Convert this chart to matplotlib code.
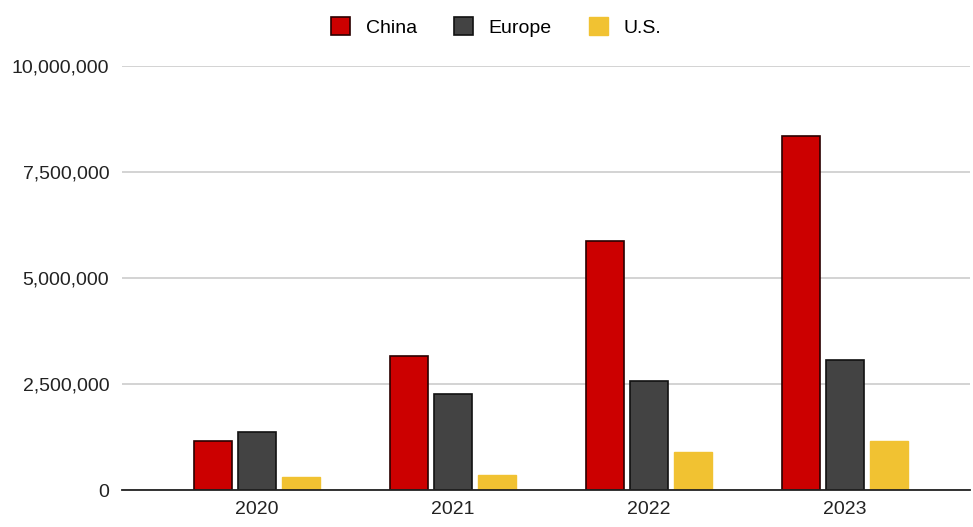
import matplotlib.pyplot as plt
import numpy as np
from matplotlib.ticker import FuncFormatter

years = ["2020", "2021", "2022", "2023"]
china = [1160000, 3160000, 5880000, 8350000]
europe = [1360000, 2260000, 2570000, 3070000]
us = [310000, 350000, 890000, 1160000]

plt.rcParams['font.family'] = ['Liberation Sans', 'DejaVu Sans']

fig = plt.figure(figsize=(9.73, 5.27), dpi=100)
ax = fig.add_axes([0.125, 0.0702, 0.872, 0.8046])

x = np.arange(len(years))
w = 0.195
b1 = ax.bar(x - 1.15 * w, china, w, color="#cc0000", edgecolor="#2a0000", linewidth=1.2, label="China", zorder=3)
b2 = ax.bar(x, europe, w, color="#434343", edgecolor="#111111", linewidth=1.2, label="Europe", zorder=3)
b3 = ax.bar(x + 1.15 * w, us, w, color="#f1c232", edgecolor="#f1c232", linewidth=1.0, label="U.S.", zorder=3)

ax.set_ylim(0, 10000000)
ax.set_xlim(-0.69, 3.64)
ax.set_yticks([0, 2500000, 5000000, 7500000, 10000000])
ax.yaxis.set_major_formatter(FuncFormatter(lambda v, p: f"{int(v):,}"))
ax.set_xticks(x)
ax.set_xticklabels(years)
ax.tick_params(axis="both", length=0, labelsize=14, colors="#222222")
ax.tick_params(axis="y", pad=9)
ax.tick_params(axis="x", pad=8)

ax.grid(axis="y", color="#c8c8c8", linewidth=1.1, zorder=0)
for s in ["top", "right", "left"]:
    ax.spines[s].set_visible(False)
ax.spines["bottom"].set_color("#222222")
ax.spines["bottom"].set_linewidth(1.3)
ax.spines["bottom"].set_zorder(4)

fig.legend(handles=[b1, b2, b3], loc="upper center", bbox_to_anchor=(0.51, 1.0), ncol=3,
           frameon=False, fontsize=14, handlelength=1.0, handleheight=1.0,
           columnspacing=1.9, handletextpad=0.8)

plt.savefig("out.png", dpi=100)
